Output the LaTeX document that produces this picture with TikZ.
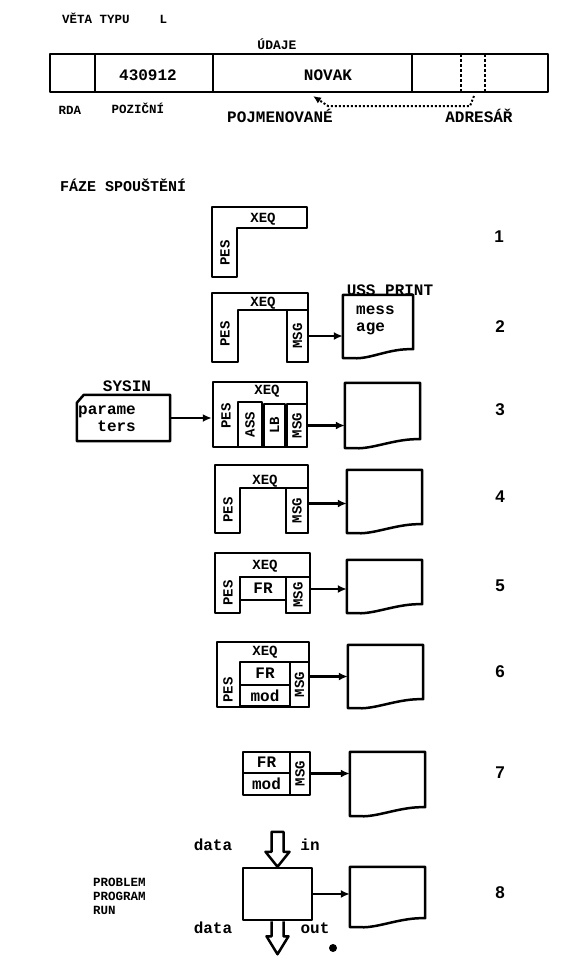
\documentclass[tikz,border=0pt]{standalone}
\usepackage{fontspec}
\setmonofont{Liberation Mono}
\newfontfamily\numfont{Liberation Sans}
\usetikzlibrary{calc,arrows.meta}

\newcommand\bigtt{\ttfamily\bfseries\fontsize{16}{17}\selectfont}
\newcommand\midtt{\ttfamily\bfseries\fontsize{14}{15}\selectfont}
\newcommand\smalltt{\ttfamily\bfseries\fontsize{12.5}{14}\selectfont}
% sheet with wavy lower edge, drawn round an empty node
\newcommand\docpage[1]{%
  \draw[outline] (#1.south west) -- (#1.north west) -- (#1.north east)
    -- ($(#1.south east)+(0,-9)$)
    .. controls ($(#1.south east)+(-24,-10)$) and ($(#1.south west)+(28,1)$)
    .. ($(#1.south west)+(11,0)$) -- cycle;}

\begin{document}
\begin{tikzpicture}[x=1pt, y=-1pt,
    outline/.style={draw, line width=2.5pt, line join=round},
    cell/.style={outline, inner sep=0pt, font=\midtt},
    lbl/.style={inner sep=0pt, font=\bigtt},
    midlbl/.style={inner sep=0pt, font=\midtt},
    smalllbl/.style={inner sep=0pt, font=\smalltt},
    docarea/.style={inner sep=0pt},
    num/.style={inner sep=0pt, font=\numfont\bfseries\fontsize{17}{18}\selectfont},
    flow/.style={line width=2.5pt, -{Latex[length=9pt,width=8pt]}}]
  \useasboundingbox (0,0) rectangle (565,975);

  % record of type L
  \node[smalllbl, anchor=west] (title) at (62,18) {VĚTA TYPU~~~~L};
  \node[inner sep=0pt, font=\ttfamily\bfseries\fontsize{13}{14}\selectfont] (udaje) at (277,44) {ÚDAJE};
  \draw[outline] (50,54) rectangle (548,92);
  \foreach \x in {95,213,412}
    \draw[outline] (\x,54) -- (\x,92);
  \foreach \x in {461,485}
    \draw[line width=2.5pt, dash pattern=on 2.5pt off 2.5pt] (\x,54) -- (\x,92);
  \node[lbl] (num) at (148,75) {430912};
  \node[lbl] (novak) at (328,75) {NOVAK};
  \node[smalllbl] (rda) at (70,110) {RDA};
  \node[smalllbl] (poz) at (138,108) {POZIČNÍ};
  \node[lbl] (pojm) at (280,116) {POJMENOVANÉ};
  \node[lbl] (adr) at (479,116) {ADRESÁŘ};
  \coordinate (adrsrc) at (474,96);
  \coordinate (pojtip) at (313,96);
  \draw[line width=2pt, dash pattern=on 2pt off 2pt, -{Latex[length=8pt,width=7pt]}]
    (adrsrc) -- (470,106) -- (328,106) -- (pojtip);

  \node[inner sep=0pt, anchor=west, font=\ttfamily\bfseries\fontsize{15}{16}\selectfont] (faze) at (60,185) {FÁZE SPOUŠTĚNÍ};

  % 1
  \draw[outline] (212,207) -- (307,207) -- (307,228) -- (237,228) -- (237,277) -- (212,277) -- cycle;
  \node[midlbl] (xeq1) at (263,219) {XEQ};
  \node[midlbl, rotate=90] (pes1) at (225,253) {PES};
  \node[num] (n1) at (499,237) {1};

  % 2
  \draw[outline] (212,293) -- (308,293) -- (308,362) -- (287,362) -- (287,310)
    -- (238,310) -- (238,362) -- (212,362) -- cycle;
  \node[midlbl] (xeq2) at (263,303) {XEQ};
  \node[midlbl, rotate=90] (pes2) at (225,334) {PES};
  \node[cell, minimum width=21pt, minimum height=52pt] (msg2) at (297.5,336) {\rotatebox{90}{MSG}};
  \node[docarea, minimum width=70pt, minimum height=63pt] (d2) at (378,326.5) {};
  \docpage{d2}
  \node[lbl] (uss) at (390,290) {USS PRINT};
  \node[lbl, anchor=west, align=left] (mess) at (356,320) {mess\\age};
  \draw[flow] (msg2.east) -- (msg2.east -| d2.west);
  \node[num] (n2) at (500,327) {2};

  % 3
  \node[lbl] (sysin) at (127,386) {SYSIN};
  \node[docarea, minimum width=93pt, minimum height=46pt] (card) at (123.5,418) {};
  \draw[outline] (card.south west) -- ($(card.north west)+(0,8)$) -- ($(card.north west)+(7,0)$)
    -- (card.north east) -- (card.south east) -- cycle;
  \node[lbl, anchor=west, align=left] (parm) at (78,419) {parame\\~~ters};
  \node[outline, inner sep=0pt, minimum width=94pt, minimum height=65pt] (box3) at (260,414.5) {};
  \node[midlbl] (xeq3) at (267,391) {XEQ};
  \node[midlbl, rotate=90] (pes3) at (226,416) {PES};
  \node[cell, minimum width=24pt, minimum height=45pt] (ass3) at (250,424.5) {\rotatebox{90}{ASS}};
  \node[cell, minimum width=21pt, minimum height=43pt] (lb3) at (274.5,425.5) {\rotatebox{90}{LB}};
  \node[cell, minimum width=20pt, minimum height=43pt] (msg3) at (297,425.5) {\rotatebox{90}{MSG}};
  \node[docarea, minimum width=75pt, minimum height=65pt] (d3) at (382.5,415.5) {};
  \docpage{d3}
  \draw[flow] (card.east) -- (card.east -| box3.west);
  \draw[flow] (msg3.west -| box3.east) -- (msg3.west -| d3.west);
  \node[num] (n3) at (500,410) {3};

  % 4
  \draw[outline] (215,465) -- (308,465) -- (308,533) -- (286,533) -- (286,488)
    -- (240,488) -- (240,533) -- (215,533) -- cycle;
  \node[midlbl] (xeq4) at (265,481) {XEQ};
  \node[midlbl, rotate=90] (pes4) at (228,510) {PES};
  \node[cell, minimum width=22pt, minimum height=45pt] (msg4) at (297,510.5) {\rotatebox{90}{MSG}};
  \node[docarea, minimum width=75pt, minimum height=63pt] (d4) at (384.5,501.5) {};
  \docpage{d4}
  \draw[flow] ($(msg4.east)+(0,-7)$) -- ($(msg4.east -| d4.west)+(0,-7)$);
  \node[num] (n4) at (500,497) {4};

  % 5
  \draw[outline] (215,553) -- (310,553) -- (310,613) -- (286,613) -- (286,577)
    -- (240,577) -- (240,613) -- (215,613) -- cycle;
  \node[midlbl] (xeq5) at (265,566) {XEQ};
  \node[midlbl, rotate=90] (pes5) at (228,593) {PES};
  \node[cell, font=\bigtt, minimum width=46pt, minimum height=23pt] (fr5) at (263,588.5) {FR};
  \node[cell, minimum width=24pt, minimum height=36pt] (msg5) at (298,595) {\rotatebox{90}{MSG}};
  \node[docarea, minimum width=75pt, minimum height=53pt] (d5) at (384.5,586.5) {};
  \docpage{d5}
  \draw[flow] ($(msg5.east)+(0,-6)$) -- ($(msg5.east -| d5.west)+(0,-6)$);
  \node[num] (n5) at (500,586) {5};

  % 6
  \node[outline, inner sep=0pt, minimum width=92pt, minimum height=65pt] (box6) at (263,674.5) {};
  \node[midlbl] (xeq6) at (265,652) {XEQ};
  \node[midlbl, rotate=90] (pes6) at (228,690) {PES};
  \node[cell, font=\bigtt, minimum width=50pt, minimum height=23pt] (fr6) at (265,673.5) {FR};
  \node[cell, font=\bigtt, minimum width=50pt, minimum height=21pt] (mod6) at (265,695.5) {mod};
  \node[cell, minimum width=19pt, minimum height=45pt] (msg6) at (299.5,684.5) {\rotatebox{90}{MSG}};
  \node[docarea, minimum width=75pt, minimum height=63pt] (d6) at (385.5,676.5) {};
  \docpage{d6}
  \draw[flow] ($(box6.east |- fr6.east)+(0,3)$) -- ($(fr6.east -| d6.west)+(0,3)$);
  \node[num] (n6) at (500,672) {6};

  % 7
  \node[cell, font=\bigtt, minimum width=47pt, minimum height=21pt] (fr7) at (266.5,762.5) {FR};
  \node[cell, font=\bigtt, minimum width=47pt, minimum height=22pt] (mod7) at (266.5,784) {mod};
  \node[cell, minimum width=20pt, minimum height=43pt] (msg7) at (300,773.5) {\rotatebox{90}{MSG}};
  \node[docarea, minimum width=75pt, minimum height=64pt] (d7) at (387.5,784) {};
  \docpage{d7}
  \draw[flow] (msg7.east) -- (msg7.east -| d7.west);
  \node[num] (n7) at (500,773) {7};

  % 8
  \node[smalllbl, anchor=west, align=left] (prob) at (93,896) {PROBLEM\\PROGRAM\\RUN};
  \node[outline, inner sep=0pt, minimum width=69pt, minimum height=52pt] (run) at (277.5,894) {};
  \node[docarea, minimum width=75pt, minimum height=60pt] (d8) at (387.5,897) {};
  \docpage{d8}
  \draw[flow] (run.east) -- (run.east -| d8.west);
  \draw[outline] (run.north) -- ++(-12,-15) -- ++(6,0) -- ++(0,-20) -- ++(12,0)
    -- ++(0,20) -- ++(6,0) -- cycle;
  \draw[outline] ($(run.south)+(-6,0)$) -- ++(0,15) -- ++(-5,0) -- ++(11,18)
    -- ++(11,-18) -- ++(-5,0) -- ++(0,-15);
  \node[lbl] (din) at (213,845) {data};
  \node[lbl] (in) at (310,845) {in};
  \node[lbl] (dout) at (213,928) {data};
  \node[lbl] (out) at (315,928) {out};
  \fill (333,948) circle (4pt);
  \node[num] (n8) at (500,893) {8};
\end{tikzpicture}
\end{document}
